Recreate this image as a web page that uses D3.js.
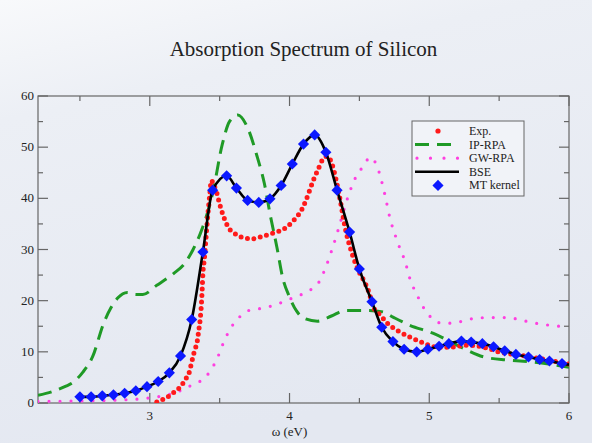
<!DOCTYPE html>
<html>
<head>
<meta charset="utf-8">
<script src="https://cdn.jsdelivr.net/npm/d3@7"></script>
<style>
  html, body { margin: 0; padding: 0; }
  body { width: 592px; height: 443px; overflow: hidden; }
  text { font-family: "Liberation Serif", "DejaVu Serif", serif; fill: #222; }
</style>
</head>
<body>
<svg id="chart" width="592" height="443"></svg>
<script>
// energies in eV, absorption in arbitrary units
const expEnergy = [3.05, 3.11, 3.16, 3.19, 3.23, 3.25, 3.28, 3.30, 3.32, 3.34, 3.35, 3.36, 3.37, 3.375, 3.38, 3.39, 3.41, 3.43, 3.44,
  3.46, 3.48, 3.50, 3.53, 3.56, 3.61, 3.67, 3.74, 3.81, 3.88, 3.96, 4.03, 4.09, 4.13, 4.17, 4.21, 4.24, 4.27, 4.30, 4.33, 4.36,
  4.40, 4.45, 4.50, 4.54, 4.57, 4.60, 4.65, 4.70, 4.77, 4.86, 4.96, 5.06, 5.15, 5.27, 5.39, 5.51, 5.63, 5.77, 5.96, 6.0];
const expValues = [0.2, 0.9, 1.8, 2.5, 3.5, 4.5, 5.8, 8, 10.2, 12.1, 14.1, 16.2, 19.6, 22.2, 25.3, 28, 35, 41, 43.5,
  42.5, 41, 38.9, 36.3, 34.4, 33.1, 32.3, 32.1, 32.6, 33.2, 34, 35.7, 37.9, 40.5, 43.5, 46, 47.7, 48.2, 47, 44, 40,
  34, 29, 25.5, 23.5, 21.5, 18.7, 17.2, 15.6, 14.2, 12.9, 11.7, 10.9, 10.9, 11.3, 10.9, 9.9, 9.4, 8.8, 7.8, 7.6];

const ipEnergy = [2.2, 2.3, 2.4, 2.45, 2.52, 2.59, 2.67, 2.72, 2.77, 2.84, 2.90, 2.95, 3.05, 3.17, 3.25, 3.31, 3.36, 3.45, 3.52,
  3.57, 3.63, 3.70, 3.77, 3.82, 3.86, 3.91, 3.95, 4.0, 4.05, 4.1, 4.2, 4.3, 4.4, 4.55, 4.67, 4.74, 4.86, 5.03, 5.22, 5.39, 5.56, 5.74, 6.0];
const ipRpa = [1.5, 2.2, 3.3, 4, 6, 9, 15.6, 18.5, 20.5, 21.6, 21.2, 21.2, 23, 25.3, 27.3, 30, 33, 41, 50.7,
  55, 56.3, 53.8, 48, 42.9, 37, 30.4, 24.6, 20.7, 18, 16.6, 16.0, 17, 18.1, 18.1, 17.8, 16.8, 15.2, 13.6, 11, 9, 8.4, 8, 7];

const gwEnergy = [2.2, 2.5, 2.8, 3.0, 3.09, 3.2, 3.3, 3.40, 3.45, 3.49, 3.52, 3.56, 3.6, 3.65, 3.7, 3.8, 3.9, 4.0, 4.04, 4.12,
  4.21, 4.25, 4.31, 4.35, 4.41, 4.47, 4.52, 4.58, 4.63, 4.68, 4.72, 4.76, 4.80, 4.83, 4.85, 4.88, 4.92, 4.96, 5.01, 5.09,
  5.17, 5.26, 5.34, 5.44, 5.52, 5.61, 5.69, 5.78, 5.86, 5.95, 6.0];
const gwRpa = [0.3, 0.4, 0.6, 1.0, 1.4, 2.2, 3.5, 5.1, 7, 9.2, 11.3, 13.7, 15.5, 17, 18, 18.5, 19.2, 20.3, 20.7, 21.7,
  23.6, 25.9, 30.5, 34, 39.6, 43.9, 46, 48, 46, 41, 36, 32.5, 29.5, 27.5, 25.3, 23, 20.7, 18.6, 16.8, 15.6,
  15.6, 16.2, 16.6, 16.7, 16.7, 16.5, 16, 15.5, 15.2, 15, 15];

const bseEnergy = [2.50, 2.58, 2.66, 2.74, 2.82, 2.90, 2.98, 3.06, 3.14, 3.22, 3.30, 3.38, 3.45, 3.55, 3.62, 3.70, 3.78, 3.86,
  3.94, 4.02, 4.10, 4.18, 4.26, 4.34, 4.43, 4.50, 4.59, 4.66, 4.74, 4.82, 4.91, 4.99, 5.07, 5.14, 5.23, 5.30, 5.38, 5.46,
  5.54, 5.62, 5.71, 5.79, 5.86, 5.95, 6.0];
const bse = [1.2, 1.2, 1.4, 1.6, 1.9, 2.4, 3.2, 4.2, 5.9, 9.2, 16.3, 29.5, 41.6, 44.4, 42, 39.6, 39.2, 39.9,
  42.5, 46.7, 50.6, 52.4, 49, 41.6, 33.4, 26.2, 19.8, 14.8, 12, 10.5, 10, 10.5, 11.1, 11.6, 12.1, 11.9, 11.6, 11,
  10.2, 9.5, 9, 8.5, 8.2, 7.7, 7.5];

const mtEnergy = bseEnergy.slice(0, 44);
const mtKernel = [1.2, 1.2, 1.4, 1.6, 1.9, 2.4, 3.2, 4.2, 5.9, 9.2, 16.3, 29.5, 41.6, 44.4, 42, 39.6, 39.2, 39.9,
  42.5, 46.7, 50.6, 52.4, 49, 41.6, 33.4, 26.2, 19.8, 14.8, 12, 10.5, 10, 10.5, 11.1, 11.6, 12.1, 11.9, 11.6, 11,
  10.2, 9.5, 9, 8.5, 8.2, 7.7];

const xTicks = [3, 4, 5, 6];
const xMinor = [2.5, 3.5, 4.5, 5.5];
const yTicks = [0, 10, 20, 30, 40, 50, 60];
const yMinor = [5, 15, 25, 35, 45, 55];
const legendItems = ['Exp.', 'IP-RPA', 'GW-RPA', 'BSE', 'MT kernel'];

const svg = d3.select('#chart');
const W = 592, H = 443;
const margin = { left: 38, right: 23, top: 96, bottom: 40 };
const x0 = margin.left, x1 = W - margin.right, y0 = H - margin.bottom, y1 = margin.top;

const defs = svg.append('defs');
const grad = defs.append('linearGradient').attr('id', 'bg').attr('x1', 0).attr('y1', 0).attr('x2', 0.3).attr('y2', 1);
grad.append('stop').attr('offset', '0%').attr('stop-color', '#f8f9fb');
grad.append('stop').attr('offset', '25%').attr('stop-color', '#eceff5');
grad.append('stop').attr('offset', '100%').attr('stop-color', '#e4e8f1');
defs.append('clipPath').attr('id', 'plotClip')
  .append('rect').attr('x', x0).attr('y', y1 - 4).attr('width', x1 - x0).attr('height', y0 - y1 + 4);

svg.append('rect').attr('width', W).attr('height', H).attr('fill', 'url(#bg)');

const x = d3.scaleLinear().domain([2.2, 6]).range([x0, x1]);
const y = d3.scaleLinear().domain([0, 60]).range([y0, y1]);

// title
svg.append('text')
  .attr('x', (x0 + x1) / 2).attr('y', 56)
  .attr('text-anchor', 'middle')
  .style('font-size', '21px')
  .text('Absorption Spectrum of Silicon');

// frame with inward ticks
const axisColor = '#666';
const frame = svg.append('g').attr('stroke', axisColor).attr('stroke-width', 1.2).attr('fill', 'none');
frame.append('rect').attr('x', x0).attr('y', y1).attr('width', x1 - x0).attr('height', y0 - y1);

const major = 10, minor = 5;
xTicks.concat(xMinor).forEach(v => {
  const len = xTicks.includes(v) ? major : minor;
  frame.append('line').attr('x1', x(v)).attr('x2', x(v)).attr('y1', y0).attr('y2', y0 - len);
  frame.append('line').attr('x1', x(v)).attr('x2', x(v)).attr('y1', y1).attr('y2', y1 + len);
});
yTicks.concat(yMinor).forEach(v => {
  const len = yTicks.includes(v) ? major : minor;
  frame.append('line').attr('x1', x0).attr('x2', x0 + len).attr('y1', y(v)).attr('y2', y(v));
  frame.append('line').attr('x1', x1).attr('x2', x1 - len).attr('y1', y(v)).attr('y2', y(v));
});

svg.append('g').selectAll('text').data(xTicks).join('text')
  .attr('x', d => x(d)).attr('y', y0 + 17)
  .attr('text-anchor', 'middle').style('font-size', '13px')
  .text(d => d);
svg.append('g').selectAll('text').data(yTicks).join('text')
  .attr('x', x0 - 4).attr('y', d => y(d) + 4)
  .attr('text-anchor', 'end').style('font-size', '13px')
  .text(d => d);

svg.append('text')
  .attr('x', x(4.0)).attr('y', y0 + 33)
  .attr('text-anchor', 'middle').style('font-size', '13px')
  .text('ω (eV)');

// series
const plot = svg.append('g').attr('clip-path', 'url(#plotClip)');
const line = (xs, ys) => d3.line().x((d, i) => x(xs[i])).y(d => y(d)).curve(d3.curveMonotoneX)(ys);

const colors = { exp: '#ff1a1a', ip: '#1f9a26', gw: '#ff3fe0', bse: '#000', mt: '#0b18ff' };

plot.append('path').attr('d', line(ipEnergy, ipRpa))
  .attr('fill', 'none').attr('stroke', colors.ip).attr('stroke-width', 3)
  .attr('stroke-dasharray', '14,8');

plot.append('path').attr('d', line(gwEnergy, gwRpa))
  .attr('fill', 'none').attr('stroke', colors.gw).attr('stroke-width', 3.2)
  .attr('stroke-linecap', 'round').attr('stroke-dasharray', '0,11');

plot.append('path').attr('d', line(expEnergy, expValues))
  .attr('fill', 'none').attr('stroke', colors.exp).attr('stroke-width', 5)
  .attr('stroke-linecap', 'round').attr('stroke-dasharray', '0,6.5');

plot.append('path').attr('d', line(bseEnergy, bse))
  .attr('fill', 'none').attr('stroke', colors.bse).attr('stroke-width', 2.6);

const diamond = d3.symbol().type(d3.symbolSquare).size(62);
plot.append('g').selectAll('path').data(mtKernel).join('path')
  .attr('d', diamond)
  .attr('transform', (d, i) => `translate(${x(mtEnergy[i])},${y(d)}) rotate(45)`)
  .attr('fill', colors.mt);

// legend
const lg = svg.append('g').attr('transform', 'translate(412,121)');
lg.append('rect').attr('width', 112).attr('height', 75)
  .attr('fill', '#f1f3f8').attr('stroke', '#666').attr('stroke-width', 1);
const rowY = i => 10 + i * 13.6;
lg.selectAll('text').data(legendItems).join('text')
  .attr('x', 57).attr('y', (d, i) => rowY(i) + 4)
  .style('font-size', '12px')
  .text(d => d);
lg.append('circle').attr('cx', 26).attr('cy', rowY(0)).attr('r', 2.6).attr('fill', colors.exp);
lg.append('line').attr('x1', 3).attr('x2', 47).attr('y1', rowY(1)).attr('y2', rowY(1))
  .attr('stroke', colors.ip).attr('stroke-width', 3).attr('stroke-dasharray', '14,8');
lg.append('line').attr('x1', 5).attr('x2', 47).attr('y1', rowY(2)).attr('y2', rowY(2))
  .attr('stroke', colors.gw).attr('stroke-width', 3.2).attr('stroke-linecap', 'round').attr('stroke-dasharray', '0,13.5');
lg.append('line').attr('x1', 3).attr('x2', 47).attr('y1', rowY(3)).attr('y2', rowY(3))
  .attr('stroke', colors.bse).attr('stroke-width', 2.6);
lg.append('path').attr('d', diamond)
  .attr('transform', `translate(26,${rowY(4)}) rotate(45)`).attr('fill', colors.mt);
</script>
</body>
</html>
